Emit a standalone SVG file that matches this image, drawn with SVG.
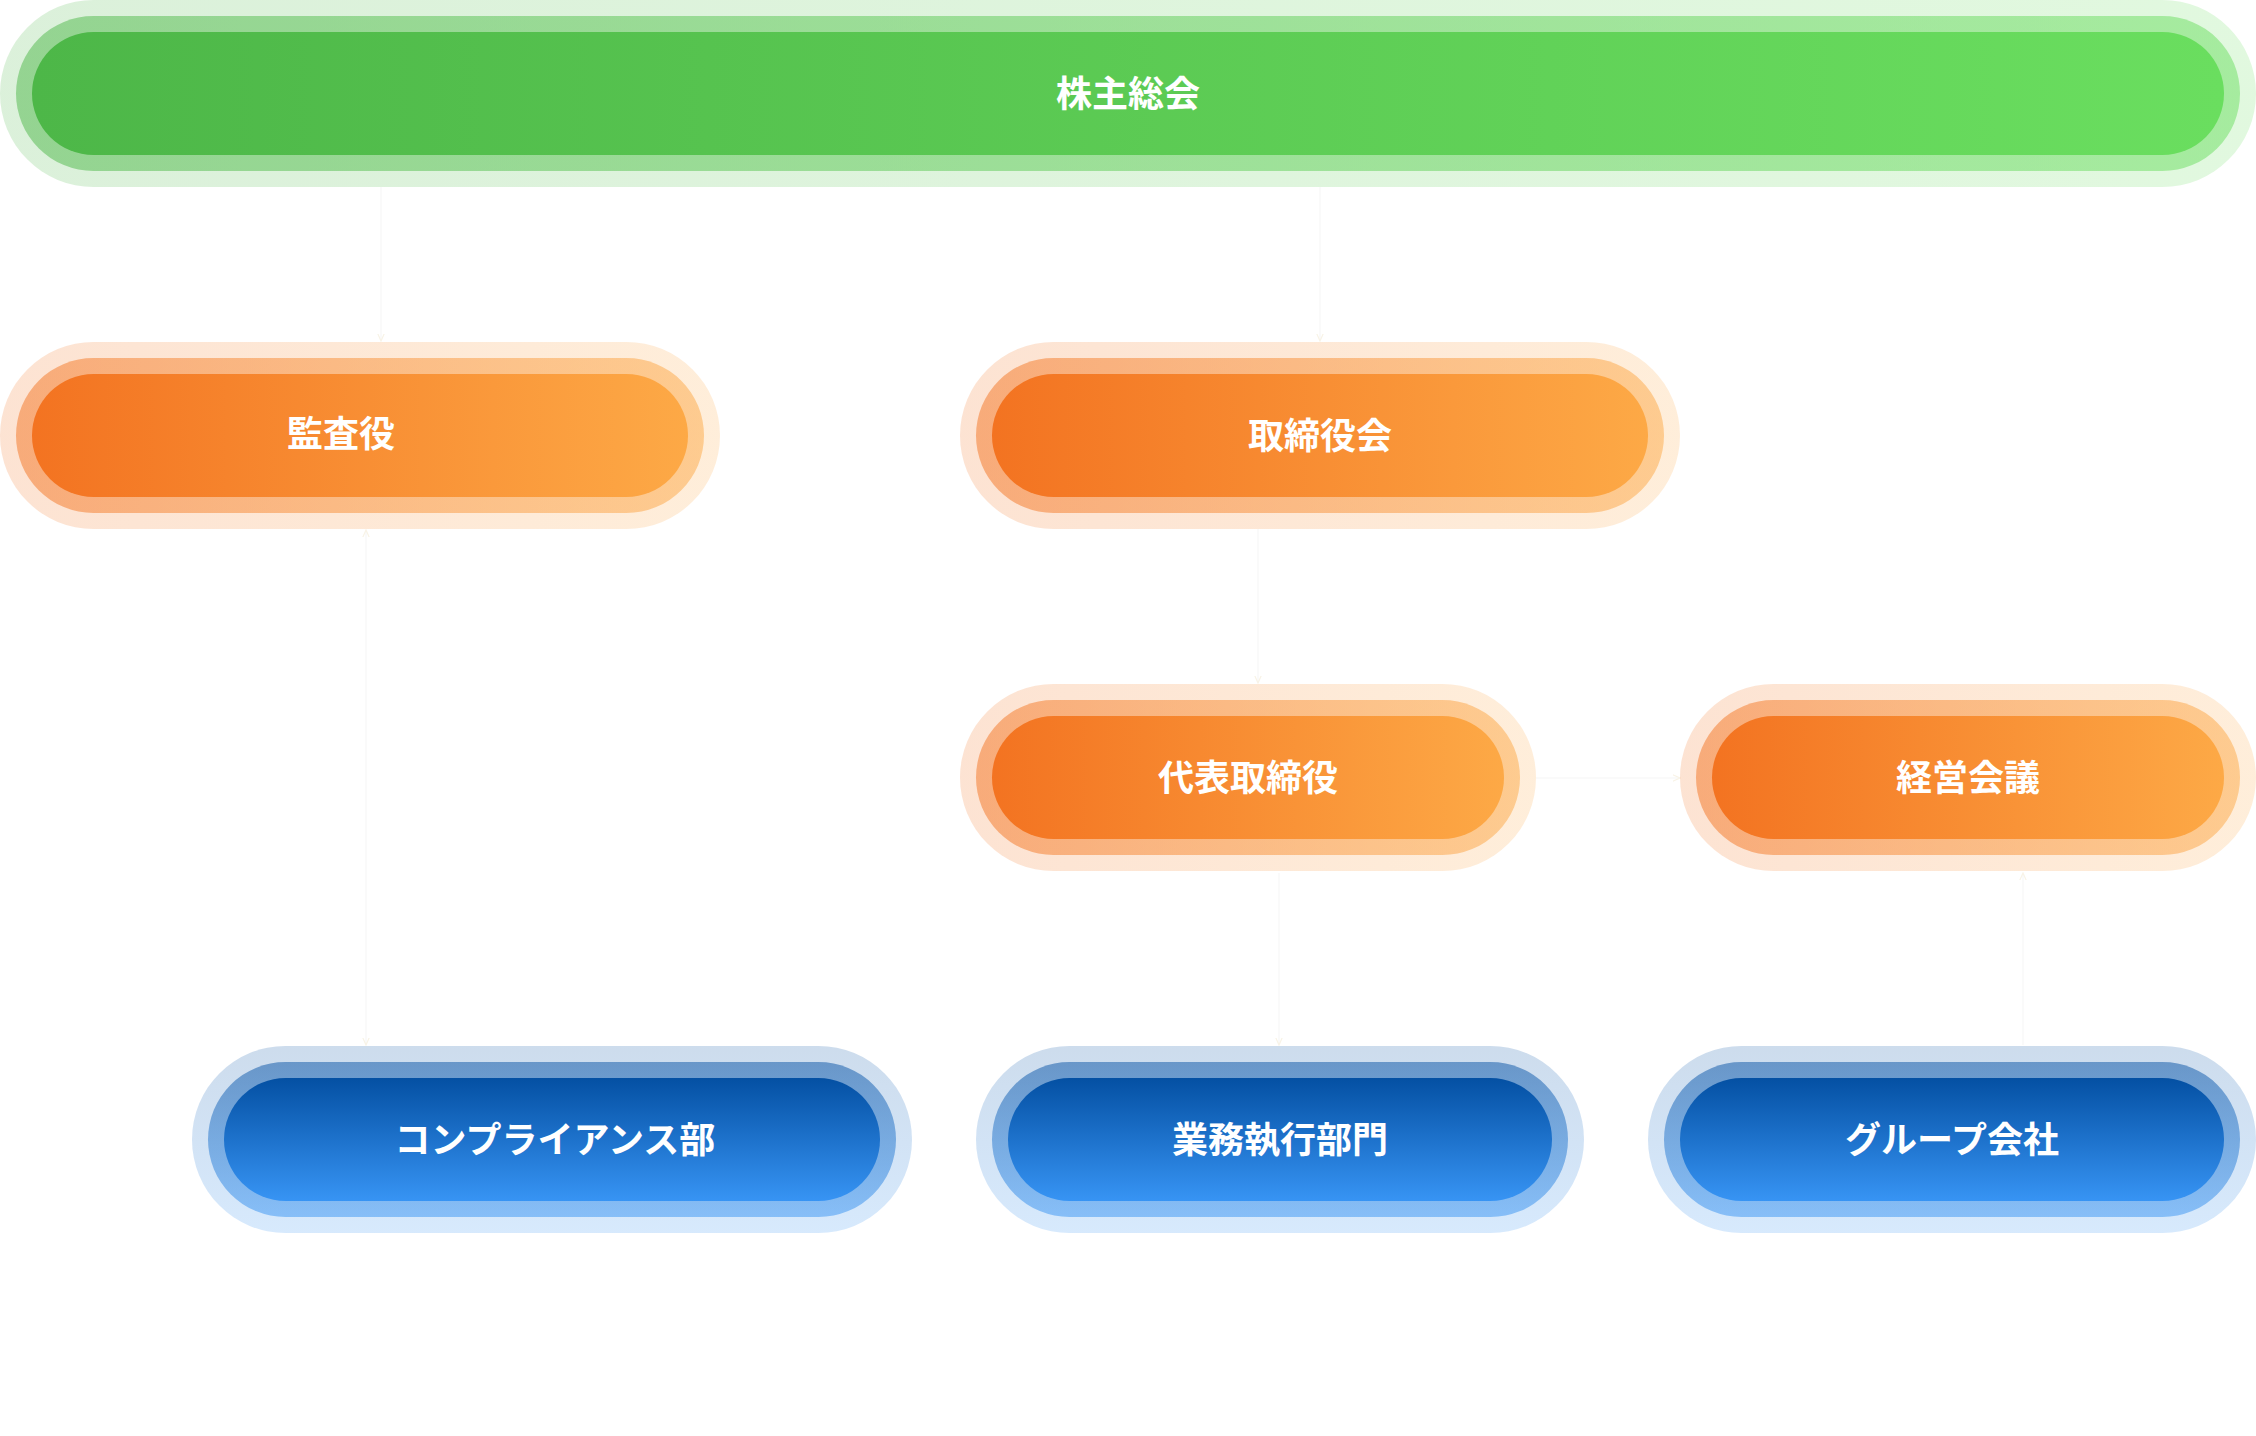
<svg xmlns="http://www.w3.org/2000/svg" width="2256" height="1436" viewBox="0 0 2256 1436">
<defs>
<linearGradient id="gGreen" x1="0" y1="0" x2="1" y2="0"><stop offset="0" stop-color="#4DB748"/><stop offset="1" stop-color="#6ADE5F"/></linearGradient>
<linearGradient id="gOrange" x1="0" y1="0" x2="1" y2="0"><stop offset="0" stop-color="#F37321"/><stop offset="1" stop-color="#FDA946"/></linearGradient>
<linearGradient id="gBlue" x1="0" y1="0" x2="0" y2="1"><stop offset="0" stop-color="#0450A3"/><stop offset="1" stop-color="#3794F4"/></linearGradient>
<marker id="arr" viewBox="0 0 10 10" refX="9" refY="5" markerWidth="8" markerHeight="8" orient="auto-start-reverse" markerUnits="userSpaceOnUse"><path d="M0,1 L9,5 L0,9" fill="none" stroke="#f8f3e6" stroke-width="1.5"/></marker>
</defs>
<style>
.h1{opacity:.2}
.h2{opacity:.5}
.green{fill:url(#gGreen)}
.orange{fill:url(#gOrange)}
.blue{fill:url(#gBlue)}
.lbl{font-family:"Noto Sans CJK JP","Noto Sans CJK SC",sans-serif;font-size:36px;font-weight:700;fill:#ffffff;text-anchor:middle}
.edge{fill:none;stroke:#fafafa;stroke-width:2}
</style>
<rect width="2256" height="1436" fill="#ffffff"/>
<g id="connectors">
<path class="edge" d="M381,187 V341" marker-end="url(#arr)"/>
<path class="edge" d="M1320,187 V341" marker-end="url(#arr)"/>
<path class="edge" d="M1258,529 V683" marker-end="url(#arr)"/>
<path class="edge" d="M366,530 V1045" marker-start="url(#arr)" marker-end="url(#arr)"/>
<path class="edge" d="M1536,778 H1680" marker-end="url(#arr)"/>
<path class="edge" d="M1279,873 V1045" marker-end="url(#arr)"/>
<path class="edge" d="M2023,873 V1045" marker-start="url(#arr)"/>
</g>
<g id="n-shareholders">
<rect class="green h1" x="0" y="0" width="2256" height="187" rx="93.5"/>
<rect class="green h2" x="16" y="16" width="2224" height="155" rx="77.5"/>
<rect class="green" x="32" y="32" width="2192" height="123" rx="61.5"/>
<text class="lbl" x="1128" y="107">株主総会</text>
</g>
<g id="n-auditor">
<rect class="orange h1" x="0" y="342" width="720" height="187" rx="93.5"/>
<rect class="orange h2" x="16" y="358" width="688" height="155" rx="77.5"/>
<rect class="orange" x="32" y="374" width="656" height="123" rx="61.5"/>
<text class="lbl" x="341" y="447">監査役</text>
</g>
<g id="n-board">
<rect class="orange h1" x="960" y="342" width="720" height="187" rx="93.5"/>
<rect class="orange h2" x="976" y="358" width="688" height="155" rx="77.5"/>
<rect class="orange" x="992" y="374" width="656" height="123" rx="61.5"/>
<text class="lbl" x="1320" y="449">取締役会</text>
</g>
<g id="n-president">
<rect class="orange h1" x="960" y="684" width="576" height="187" rx="93.5"/>
<rect class="orange h2" x="976" y="700" width="544" height="155" rx="77.5"/>
<rect class="orange" x="992" y="716" width="512" height="123" rx="61.5"/>
<text class="lbl" x="1248" y="791">代表取締役</text>
</g>
<g id="n-mgmt">
<rect class="orange h1" x="1680" y="684" width="576" height="187" rx="93.5"/>
<rect class="orange h2" x="1696" y="700" width="544" height="155" rx="77.5"/>
<rect class="orange" x="1712" y="716" width="512" height="123" rx="61.5"/>
<text class="lbl" x="1968" y="791">経営会議</text>
</g>
<g id="n-compliance">
<rect class="blue h1" x="192" y="1046" width="720" height="187" rx="93.5"/>
<rect class="blue h2" x="208" y="1062" width="688" height="155" rx="77.5"/>
<rect class="blue" x="224" y="1078" width="656" height="123" rx="61.5"/>
<text class="lbl" x="555" y="1153">コンプライアンス部</text>
</g>
<g id="n-business">
<rect class="blue h1" x="976" y="1046" width="608" height="187" rx="93.5"/>
<rect class="blue h2" x="992" y="1062" width="576" height="155" rx="77.5"/>
<rect class="blue" x="1008" y="1078" width="544" height="123" rx="61.5"/>
<text class="lbl" x="1280" y="1153">業務執行部門</text>
</g>
<g id="n-group">
<rect class="blue h1" x="1648" y="1046" width="608" height="187" rx="93.5"/>
<rect class="blue h2" x="1664" y="1062" width="576" height="155" rx="77.5"/>
<rect class="blue" x="1680" y="1078" width="544" height="123" rx="61.5"/>
<text class="lbl" x="1952" y="1153">グループ会社</text>
</g>
</svg>
